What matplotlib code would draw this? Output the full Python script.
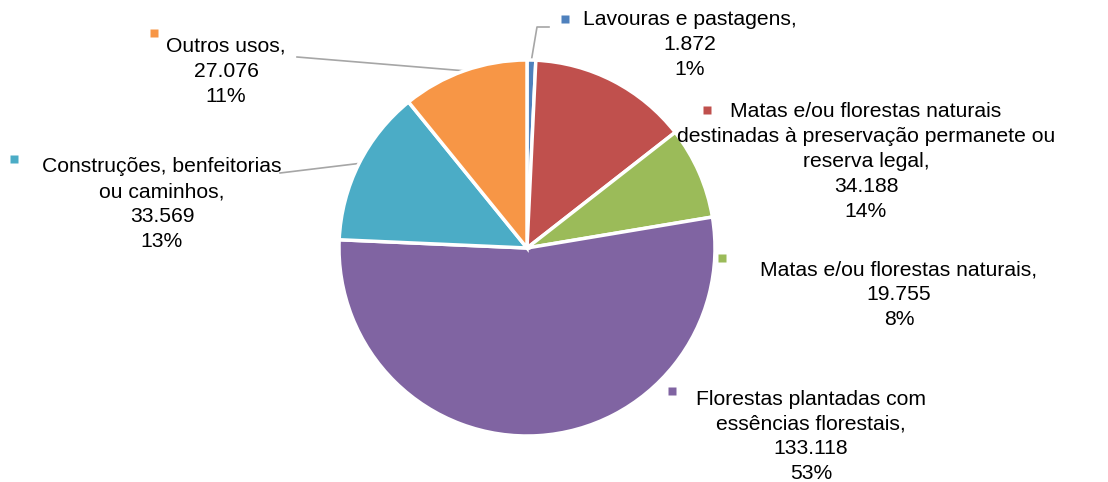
import numpy as np
import matplotlib.pyplot as plt

plt.rcParams['font.family'] = ['Liberation Sans', 'DejaVu Sans']

# data
labels = ['Lavouras e pastagens,',
          'Matas e/ou florestas naturais\ndestinadas à preservação permanete ou\nreserva legal,',
          'Matas e/ou florestas naturais,',
          'Florestas plantadas com\nessências florestais,',
          'Construções, benfeitorias\nou caminhos,',
          'Outros usos,']
values = [1872, 34188, 19755, 133118, 33569, 27076]
colors = ['#4F81BD', '#C0504D', '#9BBB59', '#8064A2', '#4BACC6', '#F79646']

# label block positions (pixel coords from top-left), marker positions, leader ends
text_pos = [(690, 10), (866, 102), (899, 260), (811, 390), (162, 157), (226, 37)]
mark_pos = [(565, 19), (707, 110), (722, 258), (672, 391), (14, 159), (154, 33)]
leader_end = [(549, 27), None, None, None, (280, 173), (297, 57)]

W, H = 1108, 482
fig = plt.figure(figsize=(W / 100, H / 100), dpi=100)
ax = fig.add_axes([0, 0, 1, 1])

cx, cy, r = 527, H - 248, 188
wedges, _ = ax.pie(values, colors=colors, startangle=90, counterclock=False,
                   center=(cx, cy), radius=r, frame=True,
                   wedgeprops=dict(edgecolor='white', linewidth=2.5))
ax.set_xlim(0, W)
ax.set_ylim(0, H)
ax.set_aspect('equal')
ax.axis('off')

total = sum(values)
for i, w in enumerate(wedges):
    pct = round(100 * values[i] / total)
    num = f'{values[i]:,}'.replace(',', '.')
    txt = f'{labels[i]}\n{num}\n{pct}%'
    tx, ty = text_pos[i]
    ls = 1.38 if i == 3 else 1.4
    ax.text(tx, H - ty, txt, ha='center', va='top', fontsize=15.2,
            linespacing=ls, color='black')
    mx, my = mark_pos[i]
    ax.plot(mx, H - my, marker='s', ms=5.5, color=colors[i], mec='none')
    if leader_end[i] is not None:
        ang = np.deg2rad((w.theta1 + w.theta2) / 2)
        px, py = cx + r * np.cos(ang), cy + r * np.sin(ang)
        ex, ey = leader_end[i]
        if i == 0:
            xs = [ex, ex - 12, px]
            ys = [H - ey, H - ey, py]
        else:
            xs = [ex, px]
            ys = [H - ey, py]
        ax.plot(xs, ys, color='#A6A6A6', lw=1.2, zorder=0)

fig.savefig('out.png', dpi=100)
